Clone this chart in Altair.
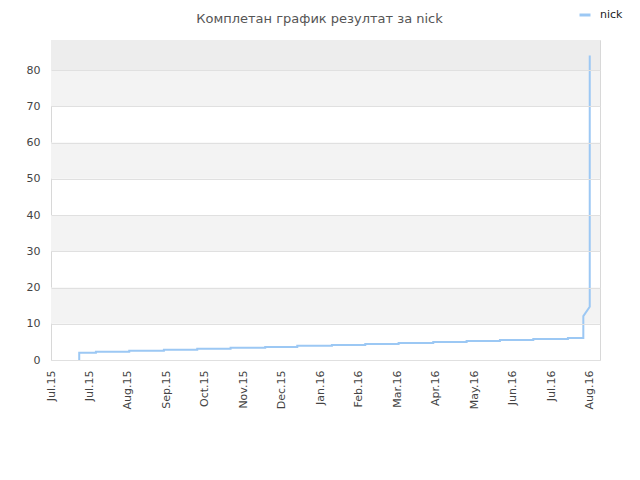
import altair as alt
import pandas as pd

# ---- data ----
series_name = "nick"
title_text = "Комплетан график резултат за nick"

# dates at which the score level changes, and the level held from that date
change_dates = ["2015-07-23", "2015-08-05", "2015-08-31", "2015-09-27", "2015-10-23",
                "2015-11-18", "2015-12-15", "2016-01-09", "2016-02-05", "2016-03-02",
                "2016-03-28", "2016-04-24", "2016-05-20", "2016-06-15", "2016-07-11",
                "2016-08-07"]
levels = [2.0, 2.3, 2.55, 2.85, 3.1, 3.35, 3.6, 3.9, 4.15, 4.4, 4.7, 4.95, 5.25, 5.5, 5.8, 6.1]
start_value = 0.0
# final rise
tail_dates = ["2016-08-19", "2016-08-19", "2016-08-24", "2016-08-24"]
tail_values = [6.1, 12.1, 14.7, 84.0]

# tick labels (every 30 days from 1 Jul 2015)
tick_dates = ["2015-07-01", "2015-07-31", "2015-08-30", "2015-09-29", "2015-10-29",
              "2015-11-28", "2015-12-28", "2016-01-27", "2016-02-26", "2016-03-27",
              "2016-04-26", "2016-05-26", "2016-06-25", "2016-07-25", "2016-08-24"]
x_domain = ["2015-07-01", "2016-09-01"]
y_ticks = [0, 10, 20, 30, 40, 50, 60, 70, 80]
y_max = 88.3

band_lo = [10, 30, 50, 70, 80]
band_hi = [20, 40, 60, 80, 88.3]
band_fill = ["#f3f3f3", "#f3f3f3", "#f3f3f3", "#f3f3f3", "#ededed"]

# ---- build table ----
rows = [(change_dates[0], start_value)]
for i, (d, v) in enumerate(zip(change_dates, levels)):
    if i > 0:
        rows.append((d, levels[i - 1]))
    rows.append((d, v))
for d, v in zip(tail_dates, tail_values):
    rows.append((d, v))
line_df = pd.DataFrame(rows, columns=["date", "value"])
line_df["order"] = range(len(line_df))
line_df["series"] = series_name

bands_df = pd.DataFrame({"lo": band_lo, "hi": band_hi, "fill": band_fill})


def ts(s):
    return int(pd.Timestamp(s, tz="UTC").timestamp() * 1000)


line_df["t"] = [ts(d) for d in line_df["date"]]
tick_values = [ts(d) for d in tick_dates]
dom = [ts(d) for d in x_domain]

FONT = "DejaVu Sans"
LINE_COLOR = "#9cc8f4"

yscale = alt.Scale(domain=[0, y_max], nice=False, zero=True)
xscale = alt.Scale(type="utc", domain=dom, nice=False)

yaxis = alt.Axis(values=y_ticks, title=None, ticks=False, domain=False,
                 grid=True, gridColor="#e0e0e0", gridWidth=1,
                 labelFont=FONT, labelFontSize=11, labelColor="#444",
                 labelPadding=11, labelOverlap=False, labelBound=False,
                 labelFlush=False, zindex=1)

bands = alt.Chart(bands_df).mark_rect().encode(
    y=alt.Y("lo:Q", scale=yscale, axis=yaxis),
    y2="hi:Q",
    fill=alt.Fill("fill:N", scale=None),
)

line = alt.Chart(line_df).mark_line(strokeWidth=2, interpolate="linear").encode(
    x=alt.X("t:T", scale=xscale,
            axis=alt.Axis(values=tick_values, title=None, ticks=False, domain=False,
                          grid=False, labelAngle=270,
                          labelExpr="utcFormat(datum.value, '%b.%y')",
                          labelFont=FONT, labelFontSize=11, labelColor="#444",
                          labelPadding=10, labelFlush=False, labelOverlap=False,
                          labelBound=False)),
    y=alt.Y("value:Q", scale=yscale, axis=yaxis),
    order=alt.Order("order:Q"),
    color=alt.Color("series:N", scale=alt.Scale(range=[LINE_COLOR]),
                    legend=alt.Legend(title=None, orient="none", legendX=527, legendY=-32,
                                      symbolType="stroke", symbolSize=121,
                                      symbolStrokeWidth=3, labelOffset=8,
                                      labelFont=FONT, labelFontSize=11,
                                      labelColor="#222", padding=0)),
)

chart = alt.layer(bands, line).properties(
    width=549,
    height=320,
    autosize=alt.AutoSizeParams(type="none"),
    padding={"left": 43, "top": 32, "right": 32, "bottom": 110},
    title=alt.TitleParams(title_text, font=FONT, fontSize=13, fontWeight="normal",
                          color="#555", anchor="middle", frame="group",
                          baseline="alphabetic", offset=23, dx=-6, dy=51),
).configure_view(stroke="#d8d8d8", strokeWidth=1, fill="white")

chart.save("out.html", embed_options={"renderer": "svg", "actions": False})
